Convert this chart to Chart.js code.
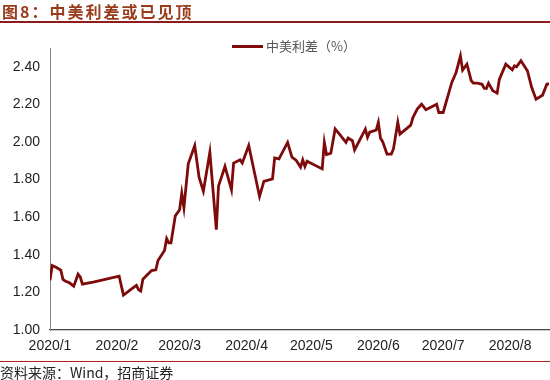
<!DOCTYPE html>
<html lang="zh">
<head>
<meta charset="UTF-8">
<title>中美利差</title>
<script src="https://cdn.jsdelivr.net/npm/chart.js@4.4.1/dist/chart.umd.min.js"></script>
<style>
  body { margin: 0; background: #fff; }
  #wrap { position: relative; width: 550px; height: 380px; overflow: hidden; }
  #title { position: absolute; left: 2px; top: 1px; font: bold 16px "Noto Sans CJK SC", sans-serif; letter-spacing: 2px; color: #9a3c1c; line-height: 20px; }
  #topLine { position: absolute; left: 0; top: 21px; width: 550px; height: 2px; background: #8e1c1c; }
  #legend { position: absolute; left: 232px; top: 37px; font: 13px "Noto Sans CJK SC", sans-serif; color: #555; line-height: 17px; white-space: nowrap; }
  #legend span { display: inline-block; width: 31px; height: 3px; background: #7f0a0a; vertical-align: middle; margin-right: 3px; position: relative; top: -1px; }
  #bottomLine { position: absolute; left: 0; top: 361px; width: 550px; height: 1px; background: #b02020; }
  #source { position: absolute; left: 0; top: 363px; font: 14px "Noto Sans CJK SC", sans-serif; color: #222; line-height: 18px; }
  canvas { position: absolute; left: 0; top: 0; }
</style>
</head>
<body>
<div id="wrap">
  <canvas id="chart" width="550" height="380"></canvas>
  <div id="title">图8：中美利差或已见顶</div>
  <div id="topLine"></div>
  <div id="legend"><span></span>中美利差（%）</div>
  <div id="bottomLine"></div>
  <div id="source">资料来源：Wind，招商证券</div>
</div>
<script>
// days since 2020-01-01
const days = [0, 1, 3, 5, 6, 7, 9, 11, 13, 14, 15, 20, 32, 34, 36, 37, 40, 41, 42, 43,
  47, 49, 50, 53, 54, 55, 56, 58, 60, 61, 62, 64, 67, 69, 71, 74, 77, 78, 81, 84,
  85, 88, 89, 92, 97, 99, 103, 104, 106, 110, 112, 114, 116, 117, 118, 119, 126, 127, 128, 130,
  132, 134, 137, 138, 140, 141, 146, 147, 148, 151, 152, 153, 154, 156, 158, 159, 161, 162, 167, 168,
  170, 172, 174, 179, 180, 182, 186, 188, 190, 191, 193, 195, 196, 198, 200, 201, 202, 203, 205, 207,
  208, 211, 214, 215, 216, 218, 221, 223, 225, 228, 230, 231];
const spread = [1.265, 1.343, 1.332, 1.318, 1.269, 1.261, 1.251, 1.233, 1.297, 1.283, 1.244, 1.255, 1.286, 1.186, 1.203, 1.212, 1.237, 1.214, 1.207, 1.27,
  1.316, 1.32, 1.37, 1.423, 1.486, 1.463, 1.463, 1.607, 1.64, 1.727, 1.65, 1.884, 1.981, 1.813, 1.738, 1.945, 1.534, 1.765, 1.87, 1.746,
  1.888, 1.905, 1.888, 1.981, 1.71, 1.791, 1.804, 1.915, 1.91, 1.998, 1.919, 1.902, 1.866, 1.905, 1.87, 1.898, 1.857, 1.998, 1.933, 1.94,
  2.069, 2.042, 1.998, 2.021, 2.007, 1.958, 2.069, 2.025, 2.052, 2.063, 2.104, 2.02, 2.002, 1.936, 1.936, 1.963, 2.104, 2.042, 2.09, 2.13,
  2.175, 2.201, 2.172, 2.201, 2.157, 2.157, 2.317, 2.37, 2.458, 2.382, 2.414, 2.326, 2.313, 2.313, 2.307, 2.286, 2.285, 2.313, 2.273, 2.26,
  2.333, 2.414, 2.384, 2.405, 2.40, 2.432, 2.379, 2.29, 2.228, 2.249, 2.307, 2.31];

const monthStarts = [0, 31, 60, 91, 121, 152, 182, 213];
const monthLabels = ['2020/1', '2020/2', '2020/3', '2020/4', '2020/5', '2020/6', '2020/7', '2020/8'];
const yTicks = [1.0, 1.2, 1.4, 1.6, 1.8, 2.0, 2.2, 2.4];

const points = days.map((d, i) => ({ x: d, y: spread[i] }));

new Chart(document.getElementById('chart'), {
  type: 'line',
  data: {
    datasets: [{
      label: '中美利差（%）',
      data: points,
      borderColor: '#7f0a0a',
      borderWidth: 2.8,
      pointRadius: 0,
      tension: 0,
      fill: false
    }]
  },
  options: {
    responsive: false,
    animation: false,
    layout: { padding: { left: 0, right: 1, top: 48, bottom: 0 } },
    plugins: { legend: { display: false }, tooltip: { enabled: false } },
    scales: {
      x: {
        type: 'linear',
        min: 0,
        max: 231,
        afterBuildTicks: s => { s.ticks = monthStarts.map(v => ({ value: v })); },
        afterFit: s => { s.height = 50; },
        ticks: {
          autoSkip: false,
          maxRotation: 0,
          padding: 8,
          color: '#222',
          font: { family: 'Liberation Sans, Arial, sans-serif', size: 14 },
          callback: (v) => monthLabels[monthStarts.indexOf(v)]
        },
        grid: { display: false, drawTicks: false },
        border: { color: '#444', width: 1.2 }
      },
      y: {
        min: 1.0,
        max: 2.5,
        afterBuildTicks: s => { s.ticks = yTicks.map(v => ({ value: v })); },
        afterFit: s => { s.width = 50; },
        ticks: {
          padding: 10,
          color: '#222',
          font: { family: 'Liberation Sans, Arial, sans-serif', size: 14 },
          callback: v => Number(v).toFixed(2)
        },
        grid: { display: false, drawTicks: false },
        border: { color: '#888', width: 1 }
      }
    }
  }
});
</script>
</body>
</html>
